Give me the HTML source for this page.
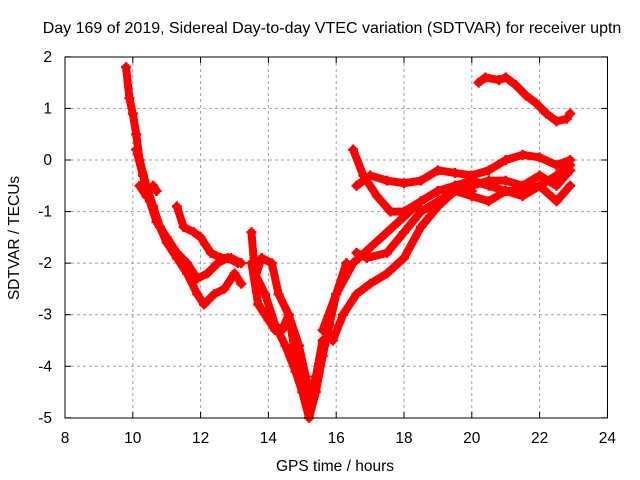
<!DOCTYPE html>
<html><head><meta charset="utf-8"><style>
body{margin:0;background:#fff}
svg{display:block;font-family:"Liberation Sans",sans-serif}
</style></head><body>
<svg id="c" width="640" height="480" viewBox="0 0 640 480">
<text x="332" y="33" font-size="16" text-anchor="middle">Day 169 of 2019, Sidereal Day-to-day VTEC variation (SDTVAR) for receiver uptn</text>
<text x="335" y="471" font-size="15.5" text-anchor="middle">GPS time / hours</text>
<text transform="translate(19,238) rotate(-90)" font-size="15.5" text-anchor="middle">SDTVAR / TECUs</text>
<g id="grid"></g><g id="ticks"></g><g id="marks"></g>
<rect x="65" y="57" width="542.5" height="361" fill="none" stroke="#000" stroke-width="1"/>
</svg>
<script>
const xTicks=[8,10,12,14,16,18,20,22,24];
const yTicks=[2,1,0,-1,-2,-3,-4,-5];
const t1=[9.8,9.9,10.0,10.1,10.2,10.4,10.6,10.8,11.0,11.3,11.6,11.9,12.1,12.4,12.7,13.0,13.2];
const v1=[1.8,1.2,0.9,0.5,0.0,-0.5,-0.9,-1.3,-1.6,-1.9,-2.2,-2.6,-2.8,-2.6,-2.5,-2.2,-2.4];
const t2=[10.1,10.3,10.5,10.7,11.0,11.3,11.6,11.9,12.2,12.5,12.8,13.1];
const v2=[0.2,-0.3,-0.8,-1.2,-1.5,-1.8,-2.0,-2.3,-2.2,-2.0,-1.9,-2.0];
const t3=[11.3,11.5,11.8,12.0,12.3,12.6,12.9,13.2];
const v3=[-0.9,-1.3,-1.4,-1.5,-1.8,-1.9,-1.9,-2.0];
const t4=[10.2,10.4,10.6,10.7];
const v4=[-0.5,-0.7,-0.5,-0.6];
const t5=[13.5,13.6,13.9,14.2,14.5,14.8,15.0,15.2,15.4,15.6,15.8,16.0,16.3];
const v5=[-1.4,-2.2,-2.6,-3.2,-3.6,-4.1,-4.5,-5.0,-4.5,-3.8,-3.2,-2.6,-2.0];
const t6=[13.5,13.7,14.0,14.2,14.4,14.6,14.8,15.0,15.2,15.4,15.6];
const v6=[-2.0,-2.8,-3.1,-3.3,-3.3,-3.0,-3.8,-4.4,-4.8,-4.2,-3.5];
const t7=[13.6,13.8,14.1,14.3,14.6,14.9,15.1,15.3,15.5];
const v7=[-2.3,-1.9,-2.0,-2.6,-3.0,-3.6,-4.2,-4.6,-4.0];
const t8=[16.5,16.8,17.2,17.6,18.0,18.5,19.0,19.5,20.0,20.5,21.0,21.5,22.0,22.5,22.9];
const v8=[0.2,-0.3,-0.7,-1.0,-1.0,-0.8,-0.6,-0.5,-0.4,-0.5,-0.6,-0.6,-0.5,-0.3,-0.1];
const t9=[16.6,17.0,17.5,18.0,18.5,19.0,19.5,20.0,20.5,21.0,21.5,22.0,22.5,22.9];
const v9=[-0.5,-0.3,-0.4,-0.45,-0.4,-0.2,-0.25,-0.3,-0.2,0.0,0.1,0.05,-0.1,0.0];
const t10=[15.6,16.0,16.5,17.0,17.5,18.0,18.5,19.0,19.5,20.0,20.5,21.0,21.5,22.0,22.5,22.9];
const v10=[-3.3,-2.6,-2.0,-1.7,-1.4,-1.1,-0.8,-0.6,-0.5,-0.5,-0.4,-0.4,-0.5,-0.3,-0.5,-0.2];
const t11=[16.6,16.9,17.5,18.0,18.5,19.0,19.5,20.0,20.5,21.0,21.5,22.0,22.5,22.9];
const v11=[-1.8,-1.9,-1.8,-1.4,-1.0,-0.8,-0.6,-0.7,-0.8,-0.6,-0.7,-0.5,-0.8,-0.5];
const t12=[15.9,16.2,16.6,17.0,17.5,18.0,18.5,19.0,19.5,20.0];
const v12=[-3.5,-3.0,-2.6,-2.4,-2.2,-1.9,-1.3,-0.9,-0.6,-0.6];
const t13=[20.2,20.4,20.8,21.0,21.3,21.6,21.9,22.2,22.5,22.8,22.9];
const v13=[1.5,1.6,1.55,1.6,1.45,1.25,1.1,0.9,0.75,0.8,0.9];
const tracks=[[t1,v1],[t2,v2],[t3,v3],[t4,v4],[t5,v5],[t6,v6],[t7,v7],[t8,v8],[t9,v9],[t10,v10],[t11,v11],[t12,v12],[t13,v13]];
const X=t=>65+(t-8)*33.9, Y=v=>160-v*51.57;
const NS='http://www.w3.org/2000/svg';
const mk=(tag,at,par)=>{const e=document.createElementNS(NS,tag);for(const k in at)e.setAttribute(k,at[k]);par.appendChild(e);return e;};
const G=document.getElementById('grid'),T=document.getElementById('ticks'),M=document.getElementById('marks');
xTicks.forEach(t=>{
  if(t>8&&t<24){const l=mk('line',{x1:X(t),x2:X(t),y1:57,y2:418,stroke:'#a0a0a0','stroke-dasharray':'3,3'},G);
  
  }
  mk('line',{x1:X(t),x2:X(t),y1:418,y2:412,stroke:'#000'},T);
  mk('line',{x1:X(t),x2:X(t),y1:57,y2:63,stroke:'#000'},T);
  const tx=mk('text',{x:X(t),y:443,'font-size':15.5,'text-anchor':'middle'},T);tx.textContent=t;
  
  
});
yTicks.forEach(v=>{
  if(v<2&&v>-5){const l=mk('line',{x1:65,x2:607.5,y1:Y(v),y2:Y(v),stroke:'#a0a0a0','stroke-dasharray':'3,3'},G);
  
  }
  mk('line',{x1:65,x2:71,y1:Y(v),y2:Y(v),stroke:'#000'},T);
  mk('line',{x1:607.5,x2:601.5,y1:Y(v),y2:Y(v),stroke:'#000'},T);
  const tx=mk('text',{x:52,y:Y(v)+5,'font-size':15.5,'text-anchor':'end'},T);tx.textContent=v;
  
  
});
tracks.forEach(([ts,vs])=>{
  const pts=ts.map((t,i)=>X(t)+','+Y(vs[i])).join(' ');
  const pl=mk('polyline',{points:pts,fill:'none',stroke:'#f00','stroke-width':8,'stroke-linejoin':'round','stroke-linecap':'round'},M);
  
  
  ts.forEach((t,i)=>{
    const x=X(t),y=Y(vs[i]);
    const p=mk('path',{d:`M${x-5},${y}h10M${x},${y-5}v10`,stroke:'#f00','stroke-width':2.5},M);
    
    
  });
});
</script>
</body></html>
